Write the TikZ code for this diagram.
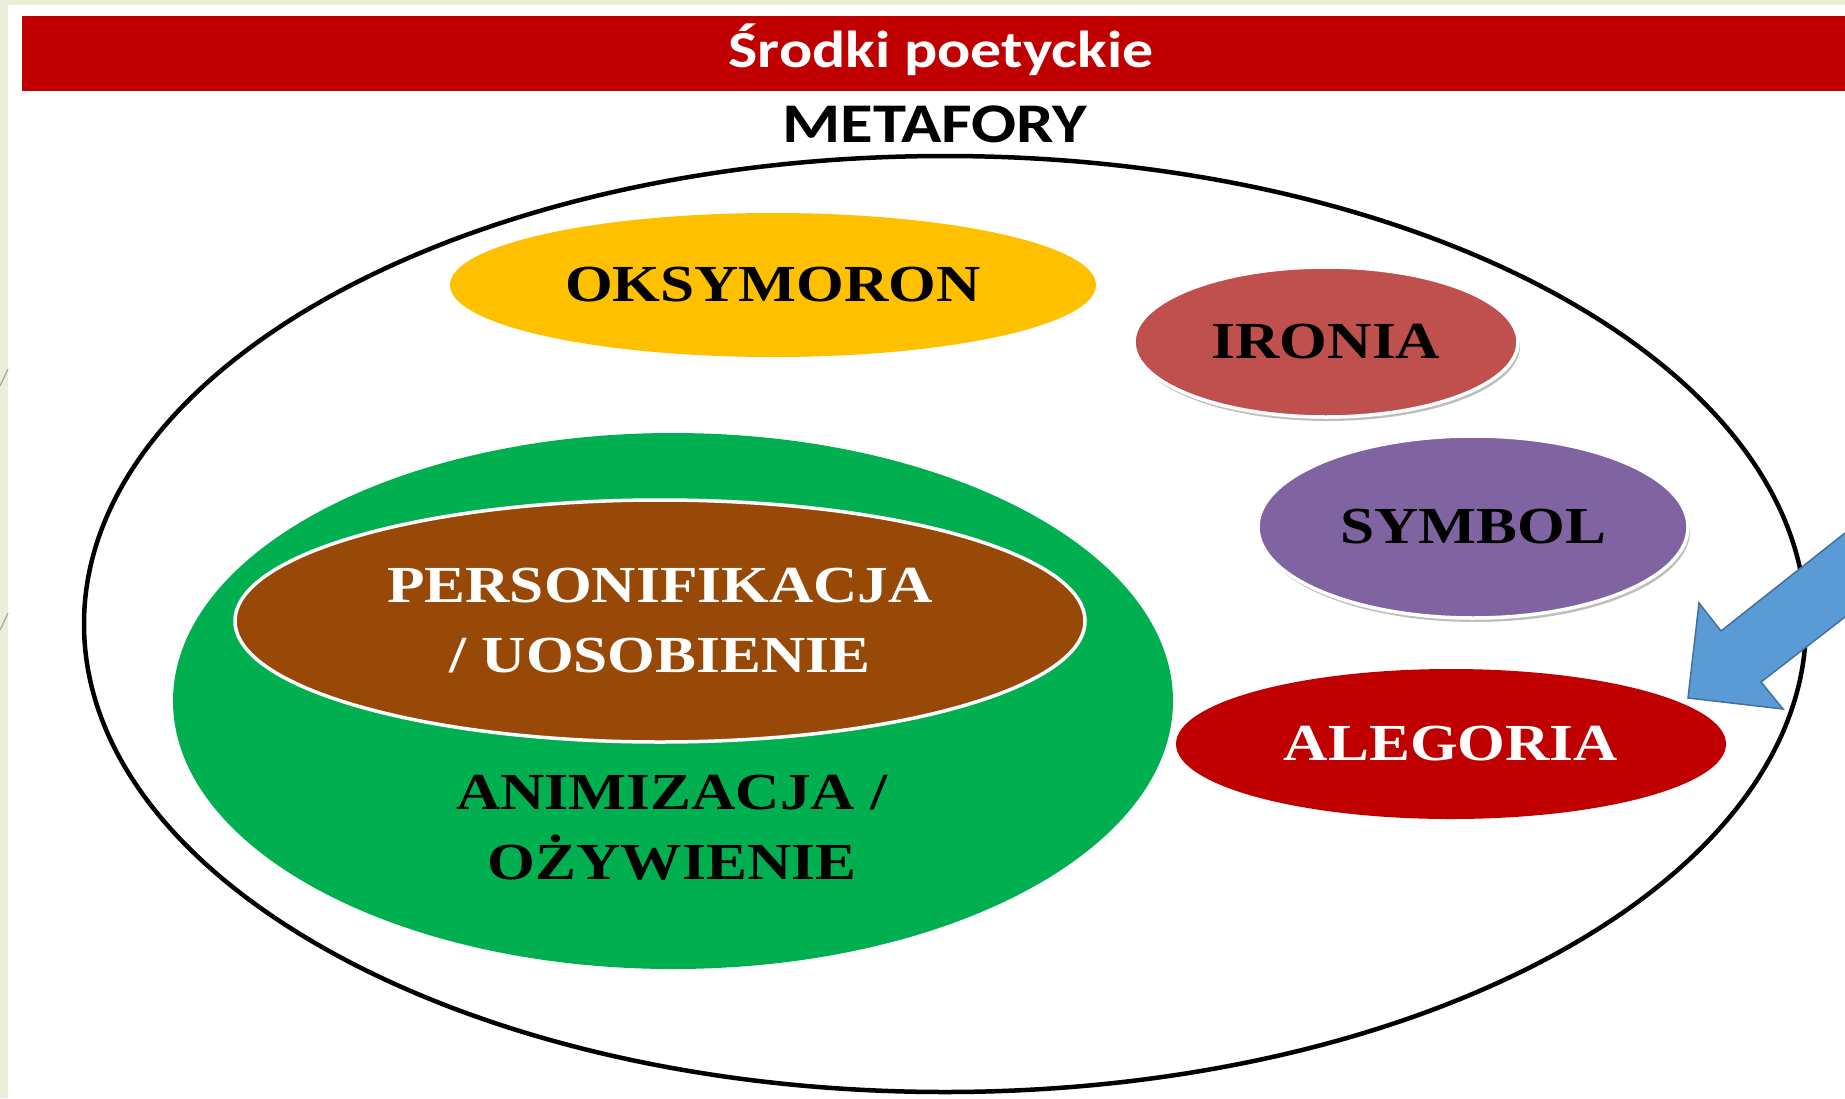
\documentclass[tikz,border=0pt]{standalone}
\usepackage{fontspec}
\newfontfamily\hfont{Carlito}[FakeStretch=1.19]
\newfontfamily\tfont{Liberation Serif}[FakeStretch=1.18]
\usetikzlibrary{shapes.geometric,shadows}
\definecolor{bgbeige}{RGB}{235,239,217}
\definecolor{barred}{RGB}{192,0,0}
\definecolor{oxyellow}{RGB}{255,192,0}
\definecolor{ironred}{RGB}{192,80,77}
\definecolor{sympurple}{RGB}{128,100,162}
\definecolor{alegred}{RGB}{192,0,0}
\definecolor{anigreen}{RGB}{0,176,80}
\definecolor{persbrown}{RGB}{152,72,7}
\definecolor{arrblue}{RGB}{91,155,213}
\definecolor{arrborder}{RGB}{65,113,156}
\begin{document}
\begin{tikzpicture}[x=1pt,y=-1pt,
  oval/.style={ellipse, inner sep=0pt, align=center},
  lbl/.style={font=\tfont\bfseries\fontsize{52}{70}\selectfont, align=center},
  softshadow/.style={drop shadow={shadow xshift=2pt, shadow yshift=-4pt, fill=black, opacity=0.25}},
  whiteedge/.style={draw=white, line width=3.5pt}]
\useasboundingbox (0,0) rectangle (1845,1098);
\fill[bgbeige] (0,0) rectangle (1845,1098);
\fill[white] (8,5) rectangle (1845,1098);
\draw[gray!70, line width=1.2pt] (0,386) -- (8,369);
\draw[gray!70, line width=1.2pt] (0,630) -- (8,613);

% title bar
\fill[barred] (22,16) rectangle (1845,91);
\node[font=\hfont\bfseries\fontsize{52}{60}\selectfont, text=white] (title) at (941,50) {Środki poetyckie};
\node[font=\hfont\bfseries\fontsize{56}{64}\selectfont, text=black] (meta) at (935,124) {METAFORY};

% outer ellipse
\node[oval, draw=black, line width=4.5pt, minimum width=1722pt, minimum height=936pt] (outer) at (945,624) {};

% green / brown
\node[oval, fill=anigreen, minimum width=1000pt, minimum height=536pt] (green) at (673,701) {};
\node[oval, fill=persbrown, whiteedge, minimum width=850pt, minimum height=242pt, lbl, text=white] (pers) at (660,621) {PERSONIFIKACJA\\/ UOSOBIENIE};
\node[lbl, text=black] (anim) at (672,828) {ANIMIZACJA /\\OŻYWIENIE};

% other ovals
\node[oval, fill=oxyellow, minimum width=646pt, minimum height=144pt, lbl, text=black] (oks) at (773,285) {OKSYMORON};
\node[oval, fill=ironred, whiteedge, softshadow, minimum width=384pt, minimum height=150pt, lbl, text=black] (iron) at (1326,342) {IRONIA};
\node[oval, fill=sympurple, whiteedge, softshadow, minimum width=430pt, minimum height=182pt, lbl, text=black] (sym) at (1473,527) {SYMBOL};
\node[oval, fill=alegred, minimum width=550pt, minimum height=150pt, lbl, text=white] (aleg) at (1451,744) {ALEGORIA};

% block arrow pointing to ALEGORIA
\coordinate (a1) at (1845,533);
\coordinate (a2) at (1721,631);
\coordinate (a3) at (1699,603);
\coordinate (tip) at (1688,698);
\coordinate (a5) at (1783,709);
\coordinate (a6) at (1761,682);
\coordinate (a7) at (1845,617);
\filldraw[fill=arrblue, draw=arrborder, line width=1.5pt, line join=miter]
  (a1) -- (a2) -- (a3) -- (tip) -- (a5) -- (a6) -- (a7);
\end{tikzpicture}
\end{document}
